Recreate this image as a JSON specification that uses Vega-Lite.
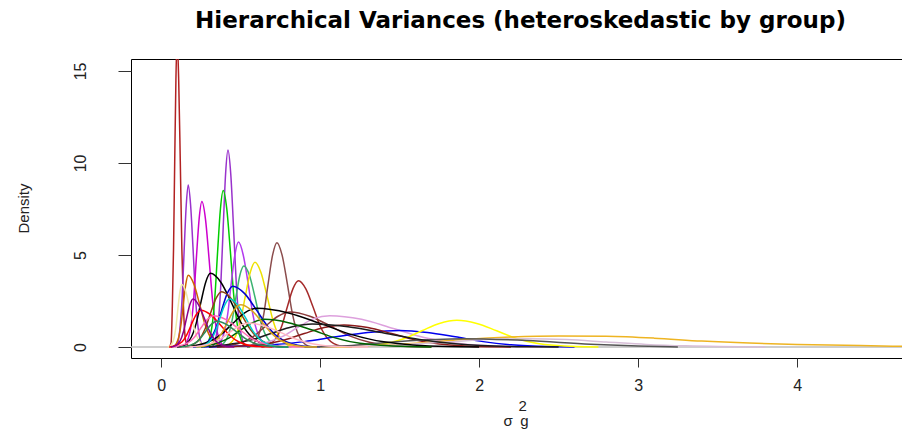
{
"$schema": "https://vega.github.io/schema/vega-lite/v6.json",
"width": 771, "height": 299,
"autosize": "none",
"padding": {"left": 131, "top": 59, "right": 0, "bottom": 74},
"background": "white",
"title": {"text": "Hierarchical Variances (heteroskedastic by group)", "font": "DejaVu Sans", "fontSize": 23, "fontWeight": "bold", "color": "#000", "anchor": "middle", "frame": "group", "baseline": "alphabetic", "offset": 8, "dx": 4},
"config": {"view": {"stroke": "#000", "strokeWidth": 1}},
"data": {"values": [
{"g":"base","x":-0.19,"y":0},{"g":"base","x":4.66,"y":0},
{"g":"A","x":0.05,"y":0},{"g":"A","x":0.062,"y":0.2},{"g":"A","x":0.07,"y":2.2},{"g":"A","x":0.0775,"y":5.3},{"g":"A","x":0.085,"y":10.1},{"g":"A","x":0.0925,"y":14.5},{"g":"A","x":0.1,"y":16.8},{"g":"A","x":0.11,"y":14.5},{"g":"A","x":0.12,"y":10.1},{"g":"A","x":0.13,"y":5.3},{"g":"A","x":0.14,"y":2.2},{"g":"A","x":0.155,"y":0.3},{"g":"A","x":0.175,"y":0},
{"g":"B","x":0.09,"y":0},{"g":"B","x":0.1,"y":0.1},{"g":"B","x":0.12,"y":1.2},{"g":"B","x":0.1325,"y":2.8},{"g":"B","x":0.145,"y":5.4},{"g":"B","x":0.1575,"y":7.7},{"g":"B","x":0.17,"y":8.8},{"g":"B","x":0.185,"y":7.7},{"g":"B","x":0.2,"y":5.4},{"g":"B","x":0.215,"y":2.8},{"g":"B","x":0.23,"y":1.2},{"g":"B","x":0.26,"y":0.1},{"g":"B","x":0.29,"y":0},
{"g":"C","x":0.14,"y":0},{"g":"C","x":0.15,"y":0.09},{"g":"C","x":0.186,"y":1.07},{"g":"C","x":0.2035,"y":2.5},{"g":"C","x":0.221,"y":4.8},{"g":"C","x":0.2385,"y":6.95},{"g":"C","x":0.256,"y":7.9},{"g":"C","x":0.2785,"y":6.95},{"g":"C","x":0.301,"y":4.8},{"g":"C","x":0.3235,"y":2.5},{"g":"C","x":0.346,"y":1.07},{"g":"C","x":0.391,"y":0.09},{"g":"C","x":0.43,"y":0},
{"g":"D","x":0.32,"y":0},{"g":"D","x":0.33,"y":0.12},{"g":"D","x":0.36,"y":1.44},{"g":"D","x":0.375,"y":3.4},{"g":"D","x":0.39,"y":6.5},{"g":"D","x":0.405,"y":9.4},{"g":"D","x":0.42,"y":10.7},{"g":"D","x":0.4375,"y":9.4},{"g":"D","x":0.455,"y":6.5},{"g":"D","x":0.4725,"y":3.4},{"g":"D","x":0.49,"y":1.44},{"g":"D","x":0.525,"y":0.12},{"g":"D","x":0.55,"y":0},
{"g":"E","x":0.27,"y":0},{"g":"E","x":0.285,"y":0.09},{"g":"E","x":0.32,"y":1.15},{"g":"E","x":0.3375,"y":2.7},{"g":"E","x":0.355,"y":5.2},{"g":"E","x":0.3725,"y":7.5},{"g":"E","x":0.39,"y":8.5},{"g":"E","x":0.4125,"y":7.5},{"g":"E","x":0.435,"y":5.2},{"g":"E","x":0.4575,"y":2.7},{"g":"E","x":0.48,"y":1.15},{"g":"E","x":0.525,"y":0.09},{"g":"E","x":0.56,"y":0},
{"g":"F","x":0.33,"y":0},{"g":"F","x":0.351,"y":0.06},{"g":"F","x":0.396,"y":0.77},{"g":"F","x":0.4185,"y":1.8},{"g":"F","x":0.441,"y":3.5},{"g":"F","x":0.4635,"y":5.0},{"g":"F","x":0.486,"y":5.7},{"g":"F","x":0.516,"y":5.0},{"g":"F","x":0.546,"y":3.5},{"g":"F","x":0.576,"y":1.8},{"g":"F","x":0.606,"y":0.77},{"g":"F","x":0.666,"y":0.06},{"g":"F","x":0.71,"y":0},
{"g":"G","x":0.35,"y":0},{"g":"G","x":0.37,"y":0.05},{"g":"G","x":0.42,"y":0.6},{"g":"G","x":0.445,"y":1.4},{"g":"G","x":0.47,"y":2.7},{"g":"G","x":0.495,"y":3.9},{"g":"G","x":0.52,"y":4.4},{"g":"G","x":0.555,"y":3.9},{"g":"G","x":0.59,"y":2.7},{"g":"G","x":0.625,"y":1.4},{"g":"G","x":0.66,"y":0.6},{"g":"G","x":0.73,"y":0.05},{"g":"G","x":0.78,"y":0},
{"g":"H","x":0.39,"y":0},{"g":"H","x":0.41,"y":0.05},{"g":"H","x":0.47,"y":0.62},{"g":"H","x":0.5,"y":1.47},{"g":"H","x":0.53,"y":2.8},{"g":"H","x":0.56,"y":4.05},{"g":"H","x":0.59,"y":4.6},{"g":"H","x":0.6275,"y":4.05},{"g":"H","x":0.665,"y":2.8},{"g":"H","x":0.7025,"y":1.47},{"g":"H","x":0.74,"y":0.62},{"g":"H","x":0.815,"y":0.05},{"g":"H","x":0.87,"y":0},
{"g":"I","x":0.54,"y":0},{"g":"I","x":0.563,"y":0.06},{"g":"I","x":0.618,"y":0.77},{"g":"I","x":0.6455,"y":1.8},{"g":"I","x":0.673,"y":3.46},{"g":"I","x":0.7005,"y":4.99},{"g":"I","x":0.728,"y":5.67},{"g":"I","x":0.7605,"y":4.99},{"g":"I","x":0.793,"y":3.46},{"g":"I","x":0.8255,"y":1.8},{"g":"I","x":0.858,"y":0.77},{"g":"I","x":0.923,"y":0.06},{"g":"I","x":0.96,"y":0},
{"g":"J","x":0.63,"y":0},{"g":"J","x":0.654,"y":0.04},{"g":"J","x":0.724,"y":0.49},{"g":"J","x":0.759,"y":1.15},{"g":"J","x":0.794,"y":2.2},{"g":"J","x":0.829,"y":3.17},{"g":"J","x":0.864,"y":3.6},{"g":"J","x":0.909,"y":3.17},{"g":"J","x":0.954,"y":2.2},{"g":"J","x":0.999,"y":1.15},{"g":"J","x":1.044,"y":0.49},{"g":"J","x":1.134,"y":0.04},{"g":"J","x":1.2,"y":0},
{"g":"K","x":0.1,"y":0},{"g":"K","x":0.13,"y":0.04},{"g":"K","x":0.19,"y":0.54},{"g":"K","x":0.22,"y":1.28},{"g":"K","x":0.25,"y":2.44},{"g":"K","x":0.28,"y":3.52},{"g":"K","x":0.31,"y":4.0},{"g":"K","x":0.375,"y":3.52},{"g":"K","x":0.44,"y":2.44},{"g":"K","x":0.505,"y":1.28},{"g":"K","x":0.57,"y":0.54},{"g":"K","x":0.7,"y":0.04},{"g":"K","x":0.8,"y":0},
{"g":"L","x":0.06,"y":0},{"g":"L","x":0.08,"y":0.04},{"g":"L","x":0.11,"y":0.53},{"g":"L","x":0.125,"y":1.25},{"g":"L","x":0.14,"y":2.38},{"g":"L","x":0.155,"y":3.43},{"g":"L","x":0.17,"y":3.9},{"g":"L","x":0.205,"y":3.43},{"g":"L","x":0.24,"y":2.38},{"g":"L","x":0.275,"y":1.25},{"g":"L","x":0.31,"y":0.53},{"g":"L","x":0.38,"y":0.04},{"g":"L","x":0.43,"y":0},
{"g":"M","x":0.04,"y":0},{"g":"M","x":0.055,"y":0.04},{"g":"M","x":0.08,"y":0.46},{"g":"M","x":0.0925,"y":1.09},{"g":"M","x":0.105,"y":2.07},{"g":"M","x":0.1175,"y":3.0},{"g":"M","x":0.13,"y":3.4},{"g":"M","x":0.155,"y":3.0},{"g":"M","x":0.18,"y":2.07},{"g":"M","x":0.205,"y":1.09},{"g":"M","x":0.23,"y":0.46},{"g":"M","x":0.28,"y":0.04},{"g":"M","x":0.32,"y":0},
{"g":"N","x":0.2,"y":0},{"g":"N","x":0.24,"y":0.04},{"g":"N","x":0.31,"y":0.45},{"g":"N","x":0.345,"y":1.06},{"g":"N","x":0.38,"y":2.0},{"g":"N","x":0.415,"y":2.9},{"g":"N","x":0.45,"y":3.3},{"g":"N","x":0.525,"y":2.9},{"g":"N","x":0.6,"y":2.0},{"g":"N","x":0.675,"y":1.06},{"g":"N","x":0.75,"y":0.45},{"g":"N","x":0.9,"y":0.04},{"g":"N","x":1.0,"y":0},
{"g":"O","x":0.15,"y":0},{"g":"O","x":0.17,"y":0.03},{"g":"O","x":0.24,"y":0.41},{"g":"O","x":0.275,"y":0.96},{"g":"O","x":0.31,"y":1.83},{"g":"O","x":0.345,"y":2.64},{"g":"O","x":0.38,"y":3.0},{"g":"O","x":0.44,"y":2.64},{"g":"O","x":0.5,"y":1.83},{"g":"O","x":0.56,"y":0.96},{"g":"O","x":0.62,"y":0.41},{"g":"O","x":0.74,"y":0.03},{"g":"O","x":0.82,"y":0},
{"g":"P","x":0.3,"y":0},{"g":"P","x":0.36,"y":0.02},{"g":"P","x":0.51,"y":0.26},{"g":"P","x":0.585,"y":0.6},{"g":"P","x":0.66,"y":1.16},{"g":"P","x":0.735,"y":1.67},{"g":"P","x":0.81,"y":1.9},{"g":"P","x":0.935,"y":1.67},{"g":"P","x":1.06,"y":1.16},{"g":"P","x":1.185,"y":0.6},{"g":"P","x":1.31,"y":0.26},{"g":"P","x":1.56,"y":0.02},{"g":"P","x":1.7,"y":0},
{"g":"Q","x":0.4,"y":0},{"g":"Q","x":0.46,"y":0.02},{"g":"Q","x":0.66,"y":0.24},{"g":"Q","x":0.76,"y":0.56},{"g":"Q","x":0.86,"y":1.07},{"g":"Q","x":0.96,"y":1.54},{"g":"Q","x":1.06,"y":1.7},{"g":"Q","x":1.26,"y":1.5},{"g":"Q","x":1.46,"y":1.0},{"g":"Q","x":1.66,"y":0.5},{"g":"Q","x":1.86,"y":0.2},{"g":"Q","x":2.2,"y":0.02},{"g":"Q","x":2.4,"y":0},
{"g":"R","x":0.25,"y":0},{"g":"R","x":0.3,"y":0.01},{"g":"R","x":0.7,"y":0.12},{"g":"R","x":0.9,"y":0.29},{"g":"R","x":1.1,"y":0.55},{"g":"R","x":1.3,"y":0.79},{"g":"R","x":1.5,"y":0.9},{"g":"R","x":1.675,"y":0.79},{"g":"R","x":1.85,"y":0.55},{"g":"R","x":2.025,"y":0.29},{"g":"R","x":2.2,"y":0.12},{"g":"R","x":2.45,"y":0.02},{"g":"R","x":2.6,"y":0},
{"g":"S","x":1.1,"y":0},{"g":"S","x":1.2,"y":0.02},{"g":"S","x":1.42,"y":0.2},{"g":"S","x":1.53,"y":0.46},{"g":"S","x":1.64,"y":0.88},{"g":"S","x":1.75,"y":1.28},{"g":"S","x":1.86,"y":1.45},{"g":"S","x":1.985,"y":1.28},{"g":"S","x":2.11,"y":0.88},{"g":"S","x":2.235,"y":0.46},{"g":"S","x":2.36,"y":0.2},{"g":"S","x":2.61,"y":0.02},{"g":"S","x":2.75,"y":0},
{"g":"T","x":0.35,"y":0},{"g":"T","x":0.4,"y":0.01},{"g":"T","x":0.65,"y":0.16},{"g":"T","x":0.775,"y":0.38},{"g":"T","x":0.9,"y":0.73},{"g":"T","x":1.025,"y":1.06},{"g":"T","x":1.15,"y":1.2},{"g":"T","x":1.3,"y":1.06},{"g":"T","x":1.45,"y":0.73},{"g":"T","x":1.6,"y":0.38},{"g":"T","x":1.75,"y":0.16},{"g":"T","x":2.05,"y":0.01},{"g":"T","x":2.2,"y":0},
{"g":"U","x":1.0,"y":0},{"g":"U","x":1.3,"y":0.05},{"g":"U","x":1.6,"y":0.2},{"g":"U","x":1.9,"y":0.4},{"g":"U","x":2.2,"y":0.54},{"g":"U","x":2.5,"y":0.6},{"g":"U","x":2.8,"y":0.58},{"g":"U","x":3.1,"y":0.48},{"g":"U","x":3.4,"y":0.32},{"g":"U","x":3.7,"y":0.21},{"g":"U","x":4.0,"y":0.14},{"g":"U","x":4.3,"y":0.09},{"g":"U","x":4.6,"y":0.04},{"g":"U","x":4.9,"y":0.01},
{"g":"V","x":0.8,"y":0},{"g":"V","x":1.3,"y":0.06},{"g":"V","x":1.55,"y":0.14},{"g":"V","x":1.8,"y":0.27},{"g":"V","x":2.05,"y":0.4},{"g":"V","x":2.3,"y":0.45},{"g":"V","x":2.55,"y":0.4},{"g":"V","x":2.8,"y":0.27},{"g":"V","x":3.05,"y":0.14},{"g":"V","x":3.3,"y":0.06},{"g":"V","x":3.8,"y":0},
{"g":"W","x":0.9,"y":0},{"g":"W","x":1.2,"y":0.08},{"g":"W","x":1.5,"y":0.3},{"g":"W","x":1.9,"y":0.45},{"g":"W","x":2.3,"y":0.35},{"g":"W","x":2.7,"y":0.15},{"g":"W","x":3.0,"y":0.05},{"g":"W","x":3.25,"y":0},
{"g":"X","x":0.15,"y":0},{"g":"X","x":0.3,"y":0.28},{"g":"X","x":0.375,"y":0.67},{"g":"X","x":0.45,"y":1.28},{"g":"X","x":0.525,"y":1.85},{"g":"X","x":0.6,"y":2.1},{"g":"X","x":0.8,"y":1.85},{"g":"X","x":1.0,"y":1.28},{"g":"X","x":1.2,"y":0.67},{"g":"X","x":1.4,"y":0.28},{"g":"X","x":1.8,"y":0.02},{"g":"X","x":2.0,"y":0},
{"g":"Y","x":0.3,"y":0},{"g":"Y","x":0.45,"y":0.17},{"g":"Y","x":0.575,"y":0.4},{"g":"Y","x":0.7,"y":0.76},{"g":"Y","x":0.825,"y":1.1},{"g":"Y","x":0.95,"y":1.25},{"g":"Y","x":1.175,"y":1.1},{"g":"Y","x":1.4,"y":0.76},{"g":"Y","x":1.625,"y":0.4},{"g":"Y","x":1.85,"y":0.17},{"g":"Y","x":2.3,"y":0.01},{"g":"Y","x":2.5,"y":0},
{"g":"Z","x":0.25,"y":0},{"g":"Z","x":0.35,"y":0.2},{"g":"Z","x":0.425,"y":0.48},{"g":"Z","x":0.5,"y":0.92},{"g":"Z","x":0.575,"y":1.32},{"g":"Z","x":0.65,"y":1.5},{"g":"Z","x":0.8,"y":1.32},{"g":"Z","x":0.95,"y":0.92},{"g":"Z","x":1.1,"y":0.48},{"g":"Z","x":1.25,"y":0.2},{"g":"Z","x":1.55,"y":0.02},{"g":"Z","x":1.7,"y":0},
{"g":"AA","x":0.05,"y":0},{"g":"AA","x":0.07,"y":0.02},{"g":"AA","x":0.13,"y":0.27},{"g":"AA","x":0.16,"y":0.64},{"g":"AA","x":0.19,"y":1.22},{"g":"AA","x":0.22,"y":1.76},{"g":"AA","x":0.25,"y":2.0},{"g":"AA","x":0.31,"y":1.76},{"g":"AA","x":0.37,"y":1.22},{"g":"AA","x":0.43,"y":0.64},{"g":"AA","x":0.49,"y":0.27},{"g":"AA","x":0.61,"y":0.02},{"g":"AA","x":0.7,"y":0},
{"g":"AB","x":0.07,"y":0},{"g":"AB","x":0.09,"y":0.02},{"g":"AB","x":0.17,"y":0.23},{"g":"AB","x":0.21,"y":0.54},{"g":"AB","x":0.25,"y":1.04},{"g":"AB","x":0.29,"y":1.5},{"g":"AB","x":0.33,"y":1.7},{"g":"AB","x":0.405,"y":1.5},{"g":"AB","x":0.48,"y":1.04},{"g":"AB","x":0.555,"y":0.54},{"g":"AB","x":0.63,"y":0.23},{"g":"AB","x":0.78,"y":0.02},{"g":"AB","x":0.9,"y":0},
{"g":"AC","x":0.22,"y":0},{"g":"AC","x":0.25,"y":0.03},{"g":"AC","x":0.31,"y":0.35},{"g":"AC","x":0.34,"y":0.83},{"g":"AC","x":0.37,"y":1.59},{"g":"AC","x":0.4,"y":2.29},{"g":"AC","x":0.43,"y":2.6},{"g":"AC","x":0.48,"y":2.29},{"g":"AC","x":0.53,"y":1.59},{"g":"AC","x":0.58,"y":0.83},{"g":"AC","x":0.63,"y":0.35},{"g":"AC","x":0.73,"y":0.03},{"g":"AC","x":0.8,"y":0},
{"g":"AD","x":0.22,"y":0},{"g":"AD","x":0.26,"y":0.03},{"g":"AD","x":0.34,"y":0.31},{"g":"AD","x":0.38,"y":0.74},{"g":"AD","x":0.42,"y":1.4},{"g":"AD","x":0.46,"y":2.02},{"g":"AD","x":0.5,"y":2.3},{"g":"AD","x":0.565,"y":2.02},{"g":"AD","x":0.63,"y":1.4},{"g":"AD","x":0.695,"y":0.74},{"g":"AD","x":0.76,"y":0.31},{"g":"AD","x":0.89,"y":0.03},{"g":"AD","x":0.98,"y":0},
{"g":"AE","x":0.15,"y":0},{"g":"AE","x":0.19,"y":0.01},{"g":"AE","x":0.31,"y":0.18},{"g":"AE","x":0.37,"y":0.42},{"g":"AE","x":0.43,"y":0.79},{"g":"AE","x":0.49,"y":1.14},{"g":"AE","x":0.55,"y":1.3},{"g":"AE","x":0.65,"y":1.14},{"g":"AE","x":0.75,"y":0.79},{"g":"AE","x":0.85,"y":0.42},{"g":"AE","x":0.95,"y":0.18},{"g":"AE","x":1.15,"y":0.01},{"g":"AE","x":1.3,"y":0},
{"g":"AF","x":0.06,"y":0},{"g":"AF","x":0.08,"y":0.03},{"g":"AF","x":0.12,"y":0.35},{"g":"AF","x":0.14,"y":0.83},{"g":"AF","x":0.16,"y":1.59},{"g":"AF","x":0.18,"y":2.29},{"g":"AF","x":0.2,"y":2.6},{"g":"AF","x":0.235,"y":2.29},{"g":"AF","x":0.27,"y":1.59},{"g":"AF","x":0.305,"y":0.83},{"g":"AF","x":0.34,"y":0.35},{"g":"AF","x":0.41,"y":0.03},{"g":"AF","x":0.46,"y":0},
{"g":"AG","x":0.12,"y":0},{"g":"AG","x":0.15,"y":0.02},{"g":"AG","x":0.21,"y":0.19},{"g":"AG","x":0.245,"y":0.45},{"g":"AG","x":0.28,"y":0.85},{"g":"AG","x":0.315,"y":1.23},{"g":"AG","x":0.35,"y":1.4},{"g":"AG","x":0.41,"y":1.23},{"g":"AG","x":0.47,"y":0.85},{"g":"AG","x":0.53,"y":0.45},{"g":"AG","x":0.59,"y":0.19},{"g":"AG","x":0.71,"y":0.02},{"g":"AG","x":0.8,"y":0}
]},
"mark": {"type": "line", "strokeWidth": 1.5, "interpolate": "monotone", "clip": true},
"encoding": {
  "x": {"field": "x", "type": "quantitative",
    "scale": {"domain": [-0.19, 4.66], "nice": false, "zero": false},
    "axis": {"values": [0, 1, 2, 3, 4], "format": "d", "grid": false, "domain": false,
      "tickSize": 9, "tickColor": "#333", "labelFont": "Liberation Sans", "labelFontSize": 16, "labelColor": "#222", "labelPadding": 10,
      "title": ["\u200b\u2002\u20022", "σ\u2002g"], "titleFont": "Liberation Sans", "titleFontSize": 15, "titleFontWeight": "normal", "titleColor": "#222",
      "titleAlign": "left", "titleBaseline": "alphabetic", "titleX": 372, "titleY": 52, "titleLineHeight": 15}},
  "y": {"field": "y", "type": "quantitative",
    "scale": {"domain": [-0.6, 15.65], "nice": false, "zero": false},
    "axis": {"values": [0, 5, 10, 15], "grid": false, "domain": false,
      "tickSize": 13, "tickColor": "#333", "labelFont": "Liberation Sans", "labelFontSize": 16, "labelColor": "#222",
      "labelAngle": -90, "labelAlign": "center", "labelBaseline": "bottom", "labelPadding": 30,
      "title": "Density", "titleFont": "Liberation Sans", "titleFontSize": 15, "titleFontWeight": "normal", "titleColor": "#222",
      "titleAngle": -90, "titleX": -108, "titleY": 149, "titleAlign": "center", "titleBaseline": "middle"}},
  "color": {"field": "g", "type": "nominal", "legend": null,
    "scale": {"domain": ["base","A","B","C","D","E","F","G","H","I","J","K","L","M","N","O","P","Q","R","S","T","U","V","W","X","Y","Z","AA","AB","AC","AD","AE","AF","AG"],
      "range": ["#BEBEBE","#B22222","#9A32CD","#CD00CD","#9932CC","#00CD00","#B23AEE","#3CB371","#EEE000","#8B4C4C","#A52A2A","#000000","#CD6600","#EEE8AA","#0000CD","#8B4513","#8B3A3A","#DDA0DD","#0000EE","#FFFF00","#8B1A1A","#EEB422","#D8BFD8","#555555","#000000","#1C1C1C","#006400","#FF0000","#FF69B4","#00CDCD","#DAA520","#FFB6C1","#8B008B","#2E8B57"]}}
}
}
